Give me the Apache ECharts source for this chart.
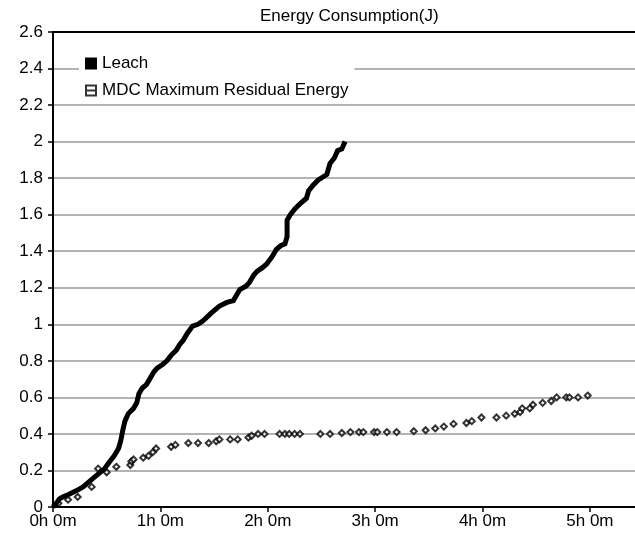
<!DOCTYPE html>
<html>
<head>
<meta charset="utf-8">
<script src="https://cdn.jsdelivr.net/npm/echarts@6/dist/echarts.min.js"></script>
<style>html,body{margin:0;padding:0;background:#fff}#c{width:635px;height:534px}</style>
</head>
<body>
<div id="c"></div>
<script>
var titleText = 'Energy Consumption(J)';
var seriesNames = ['Leach', 'MDC Maximum Residual Energy'];
var yTicks = { min: 0, max: 2.6, step: 0.2 };
var xTicks = { min: 0, max: 5.42, step: 1 };

// Leach: hours, energy (J)
var leachHours = [0,0.03,0.06,0.09,0.15,0.22,0.28,0.34,0.40,0.44,0.48,0.53,0.57,0.61,0.63,0.65,0.67,0.70,0.75,0.78,0.80,0.83,0.87,0.90,0.94,0.97,1.02,1.06,1.10,1.15,1.18,1.21,1.25,1.30,1.35,1.40,1.47,1.55,1.62,1.68,1.71,1.74,1.80,1.83,1.87,1.90,1.95,1.99,2.04,2.08,2.12,2.16,2.18,2.18,2.21,2.25,2.30,2.36,2.38,2.42,2.47,2.55,2.58,2.62,2.65,2.69,2.72];
var leachEnergy = [0,0.02,0.045,0.055,0.07,0.09,0.11,0.14,0.17,0.19,0.21,0.25,0.28,0.32,0.36,0.42,0.47,0.51,0.54,0.57,0.62,0.65,0.67,0.70,0.74,0.76,0.78,0.80,0.83,0.86,0.89,0.91,0.95,0.99,1.00,1.02,1.06,1.10,1.12,1.13,1.16,1.19,1.21,1.23,1.27,1.29,1.31,1.33,1.37,1.41,1.43,1.44,1.48,1.57,1.60,1.63,1.66,1.69,1.73,1.76,1.79,1.82,1.88,1.91,1.95,1.96,2.0];

// MDC Maximum Residual Energy: hours, energy (J)
var mdcHours = [0.05,0.14,0.23,0.36,0.42,0.50,0.59,0.72,0.73,0.75,0.84,0.89,0.93,0.96,1.10,1.14,1.26,1.35,1.45,1.52,1.55,1.65,1.72,1.82,1.85,1.91,1.97,2.11,2.16,2.20,2.25,2.30,2.49,2.58,2.69,2.77,2.85,2.89,2.99,3.02,3.11,3.20,3.36,3.47,3.56,3.64,3.73,3.85,3.90,3.99,4.13,4.22,4.30,4.35,4.37,4.44,4.47,4.56,4.64,4.69,4.78,4.81,4.89,4.98];
var mdcEnergy = [0.02,0.04,0.055,0.11,0.21,0.19,0.22,0.23,0.25,0.26,0.27,0.28,0.30,0.32,0.33,0.34,0.35,0.35,0.35,0.36,0.37,0.37,0.37,0.38,0.39,0.40,0.40,0.40,0.40,0.40,0.40,0.40,0.40,0.40,0.405,0.41,0.41,0.41,0.41,0.41,0.41,0.41,0.415,0.42,0.43,0.44,0.455,0.46,0.47,0.49,0.49,0.50,0.51,0.52,0.54,0.54,0.56,0.57,0.58,0.60,0.60,0.60,0.60,0.61];

var FONT = '"Liberation Sans", Arial, sans-serif';
function pairs(xs, ys){ return xs.map(function(x,i){ return [x, ys[i]]; }); }

var chart = echarts.init(document.getElementById('c'), null, {renderer:'canvas'});
chart.setOption({
  animation: false,
  backgroundColor: '#fff',
  title: {
    text: titleText, left: 255, top: 3,
    textStyle: { fontFamily: FONT, fontSize: 17, fontWeight: 'normal', color: '#000' }
  },
  legend: {
    orient: 'vertical', left: 79, top: 50,
    padding: [5, 6, 5, 6], backgroundColor: '#fff',
    itemWidth: 12, itemHeight: 12, itemGap: 10, itemTextGap: 5,
    textStyle: { fontFamily: FONT, fontSize: 17, color: '#000' },
    data: [
      { name: seriesNames[0], icon: 'rect', itemStyle: { color: '#000' } },
      { name: seriesNames[1], icon: 'path://M0,0H12V12H0Z M2,2V5H10V2Z M2,7V10H10V7Z', itemStyle: { color: '#000', borderWidth: 0 } }
    ]
  },
  grid: { left: 53, right: 0, top: 32, bottom: 27 },
  xAxis: [{
    type: 'value', min: xTicks.min, max: xTicks.max, interval: xTicks.step,
    axisLine: { show: true, lineStyle: { color: '#000', width: 2 } },
    axisTick: { show: true, length: 5, lineStyle: { color: '#000', width: 1.5 } },
    axisLabel: { showMaxLabel: false, margin: 6, fontFamily: FONT, fontSize: 17, color: '#000',
      formatter: function(v){ return Math.floor(v) + 'h ' + Math.round((v % 1) * 60) + 'm'; } },
    splitLine: { show: false }
  }, {
    type: 'value', position: 'top', min: xTicks.min, max: xTicks.max, interval: xTicks.step,
    axisLine: { show: true, lineStyle: { color: '#000', width: 2 } },
    axisTick: { show: false }, axisLabel: { show: false }, splitLine: { show: false }
  }],
  yAxis: {
    type: 'value', min: yTicks.min, max: yTicks.max, interval: yTicks.step,
    axisLine: { show: true, lineStyle: { color: '#000', width: 2 } },
    axisTick: { show: true, length: 5, lineStyle: { color: '#000', width: 1.5 } },
    axisLabel: { margin: 10, fontFamily: FONT, fontSize: 17, color: '#000',
      formatter: function(v){ return String(+v.toFixed(1)); } },
    splitLine: { show: true, lineStyle: { color: '#9a9a9a', width: 1.5 } }
  },
  series: [{
    name: seriesNames[0], type: 'line', xAxisIndex: 0,
    data: pairs(leachHours, leachEnergy),
    showSymbol: false, symbol: 'none',
    lineStyle: { color: '#000', width: 5, join: 'miter' },
    itemStyle: { color: '#000' }
  }, {
    name: seriesNames[1], type: 'scatter', xAxisIndex: 0,
    data: pairs(mdcHours, mdcEnergy),
    symbol: 'diamond', symbolSize: [6, 6],
    itemStyle: { color: '#fff', borderColor: '#000', borderWidth: 2 }
  }]
});
</script>
</body>
</html>
